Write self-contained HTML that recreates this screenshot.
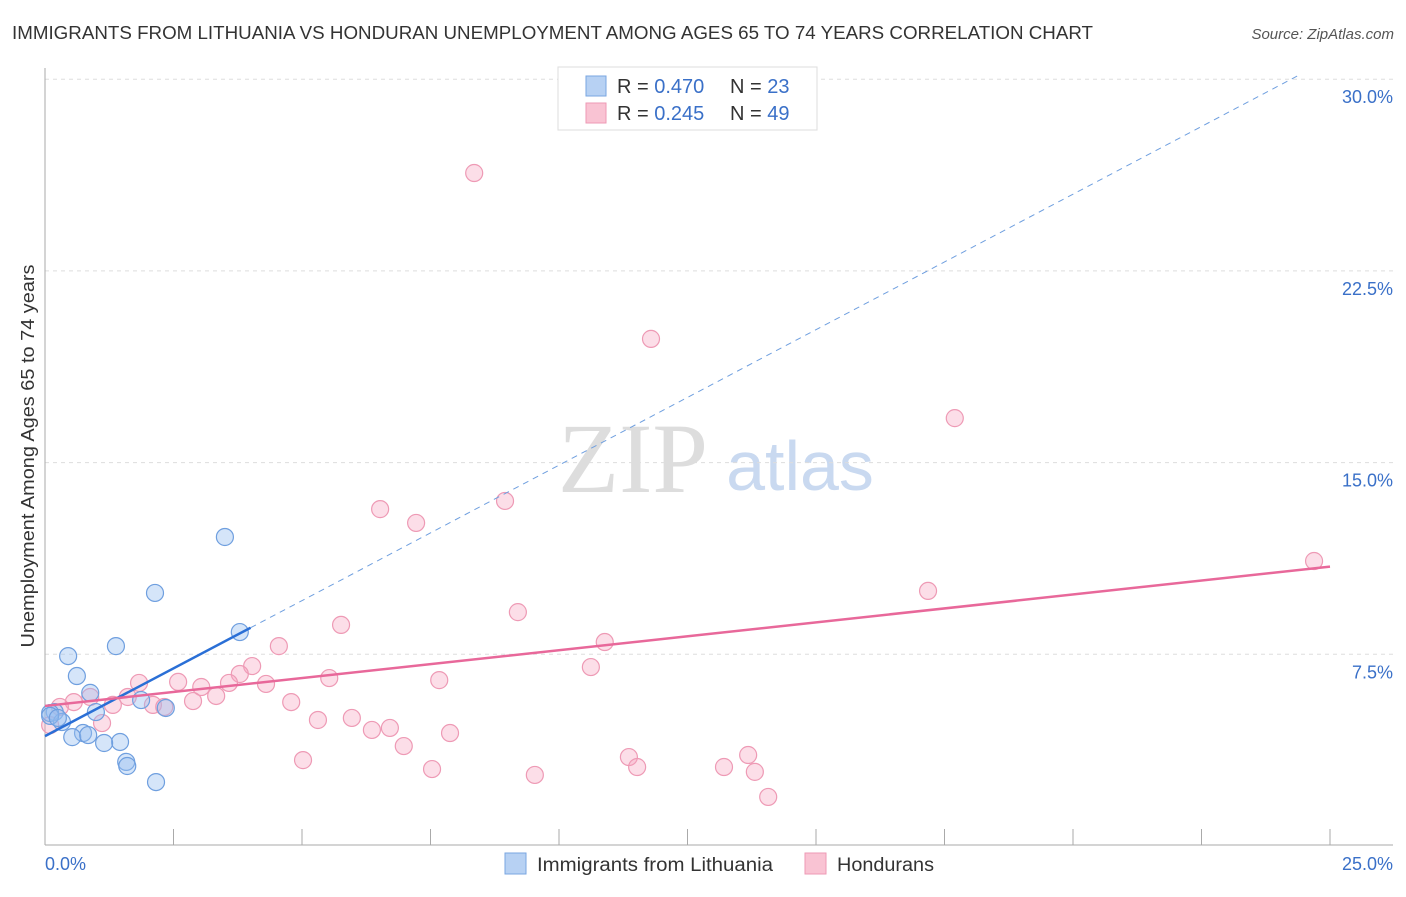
<!DOCTYPE html>
<html><head><meta charset="utf-8"><style>
body{margin:0;background:#fff;font-family:"Liberation Sans",sans-serif;}
</style></head><body>
<svg id="c" width="1406" height="892" xmlns="http://www.w3.org/2000/svg">
<text x="12" y="39" font-size="18" fill="#333" textLength="1081" lengthAdjust="spacingAndGlyphs">IMMIGRANTS FROM LITHUANIA VS HONDURAN UNEMPLOYMENT AMONG AGES 65 TO 74 YEARS CORRELATION CHART</text>
<text x="1394" y="39" font-size="15" fill="#555" font-style="italic" text-anchor="end">Source: ZipAtlas.com</text>
<text x="633" y="492" font-size="100" fill="#ddd" font-family="Liberation Serif,serif" text-anchor="middle">ZIP</text>
<text x="800" y="490" font-size="70" fill="#c9d9f0" text-anchor="middle">atlas</text>
<text transform="translate(34,456) rotate(-90)" font-size="18" fill="#333" text-anchor="middle" textLength="383" lengthAdjust="spacingAndGlyphs">Unemployment Among Ages 65 to 74 years</text>
<g id="grid"></g><g id="pts"></g><g id="lines"></g>
<g>
<rect x="558" y="67" width="259" height="63" fill="#fff" stroke="#ddd"/>
<rect x="586" y="76" width="20" height="20" fill="#b7d1f3" stroke="#7aa6e0"/>
<rect x="586" y="103" width="20" height="20" fill="#f9c3d3" stroke="#ee9ab5"/>
<text x="617" y="93" font-size="20" fill="#333">R = <tspan fill="#3a70c8">0.470</tspan></text>
<text x="730" y="93" font-size="20" fill="#333">N = <tspan fill="#3a70c8">23</tspan></text>
<text x="617" y="120" font-size="20" fill="#333">R = <tspan fill="#3a70c8">0.245</tspan></text>
<text x="730" y="120" font-size="20" fill="#333">N = <tspan fill="#3a70c8">49</tspan></text>
</g>
<g>
<rect x="505" y="853" width="21" height="21" fill="#b7d1f3" stroke="#7aa6e0"/>
<text x="537" y="871" font-size="19" fill="#333" textLength="236" lengthAdjust="spacingAndGlyphs">Immigrants from Lithuania</text>
<rect x="805" y="853" width="21" height="21" fill="#f9c3d3" stroke="#ee9ab5"/>
<text x="837" y="871" font-size="19" fill="#333" textLength="97" lengthAdjust="spacingAndGlyphs">Hondurans</text>
</g>
</svg>
<script>
const yTicks=[7.5,15,22.5,30];
const yTickLabels=["7.5%","15.0%","22.5%","30.0%"];
const xTicks=[0,2.5,5,7.5,10,12.5,15,17.5,20,22.5,25];
const blueX=[3.50,2.14,3.79,0.45,1.38,0.62,0.88,1.87,2.35,0.99,0.19,0.10,0.33,0.74,0.53,0.84,1.46,1.15,1.58,1.60,2.16,0.10,0.25];
const blueY=[12.09,9.90,8.37,7.43,7.82,6.65,5.99,5.71,5.40,5.24,5.24,5.20,4.85,4.42,4.26,4.34,4.07,4.03,3.29,3.13,2.50,5.09,5.01];
const pinkX=[8.35,11.79,17.70,24.69,8.95,6.52,7.22,17.18,9.20,5.76,10.89,4.55,10.62,4.03,3.79,1.83,2.59,3.58,4.30,5.53,7.67,3.04,3.33,1.61,2.88,4.79,1.32,2.10,2.32,0.56,0.29,0.88,1.11,5.31,5.97,6.36,6.71,7.88,6.98,5.02,7.53,9.53,11.36,11.52,13.21,13.68,13.81,14.07,0.10];
const pinkY=[26.33,19.84,16.74,11.15,13.50,13.18,12.64,9.98,9.15,8.65,7.98,7.82,7.00,7.04,6.73,6.38,6.42,6.38,6.34,6.57,6.49,6.22,5.87,5.83,5.67,5.63,5.52,5.52,5.44,5.63,5.44,5.83,4.81,4.93,5.01,4.54,4.62,4.42,3.91,3.36,3.01,2.78,3.48,3.09,3.09,3.56,2.90,1.92,4.73];
const blueFit=[4.30,1.06];
const pinkFit=[5.48,0.218];
const NS="http://www.w3.org/2000/svg";
const X=v=>45+v*51.4, Y=v=>846-v*25.56;
function mk(p,t,a){const e=document.createElementNS(NS,t);for(const k in a)e.setAttribute(k,a[k]);p.appendChild(e);return e;}
const g=document.getElementById('grid');
yTicks.forEach((t,i)=>{
 const l=mk(g,'line',{x1:45,x2:1393,y1:Y(t),y2:Y(t),stroke:'#ddd','stroke-dasharray':'4,4'});
 
 
 const tx=mk(g,'text',{x:1393,y:Y(t)+24,'font-size':18,fill:'#3a70c8','text-anchor':'end'});
 tx.textContent=yTickLabels[i];
 
 
});
mk(g,'line',{x1:45,x2:45,y1:68,y2:845,stroke:'#aaa'});
mk(g,'line',{x1:45,x2:1393,y1:845,y2:845,stroke:'#aaa'});
xTicks.forEach(t=>{const l=mk(g,'line',{x1:X(t),x2:X(t),y1:829,y2:845,stroke:'#aaa'});
 
 });
const a=mk(g,'text',{x:45,y:870,'font-size':18,fill:'#3a70c8'});a.textContent='0.0%';


const b=mk(g,'text',{x:1393,y:870,'font-size':18,fill:'#3a70c8','text-anchor':'end'});b.textContent='25.0%';


const P=document.getElementById('pts');
pinkX.forEach((x,i)=>{const c=mk(P,'circle',{cx:X(x),cy:Y(pinkY[i]),r:8.5,fill:'rgba(245,160,188,0.35)',stroke:'#ee9ab5','stroke-width':1.2});
 
 });
blueX.forEach((x,i)=>{const c=mk(P,'circle',{cx:X(x),cy:Y(blueY[i]),r:8.5,fill:'rgba(150,190,240,0.4)',stroke:'#6f9fdf','stroke-width':1.2});
 
 });
const L=document.getElementById('lines');
const bl=mk(L,'line',{x1:X(0),y1:Y(blueFit[0]),x2:X(4),y2:Y(blueFit[0]+4*blueFit[1]),stroke:'#2a6fd6','stroke-width':2.5});


const bd=mk(L,'line',{x1:X(4),y1:Y(blueFit[0]+4*blueFit[1]),x2:X(24.4),y2:Y(blueFit[0]+24.4*blueFit[1]),stroke:'#6f9fdf','stroke-width':1,'stroke-dasharray':'6,5'});


const pl=mk(L,'line',{x1:X(0),y1:Y(pinkFit[0]),x2:X(25),y2:Y(pinkFit[0]+25*pinkFit[1]),stroke:'#e8689a','stroke-width':2.5});


</script>
</body></html>
